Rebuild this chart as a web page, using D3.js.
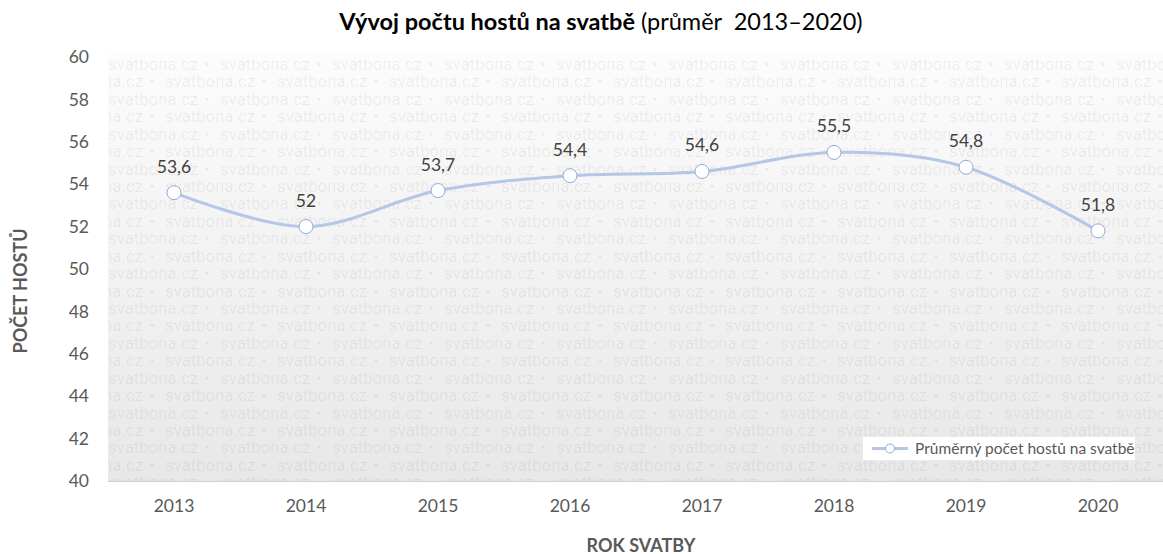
<!DOCTYPE html>
<html>
<head>
	<meta charset="utf-8">
	<title>Vývoj počtu hostů na svatbě</title>
	<style>
		body { margin: 0; background: #fff; }
		svg { display: block; font-family: Lato, "Open Sans", sans-serif; }
		.tick-label { fill: #595959; font-size: 17.5px; }
		.axis-title { fill: #595959; font-size: 18px; font-weight: 700; }
		.data-label { fill: #404040; font-size: 17.5px; }
		.wm { fill: #000; fill-opacity: 0.065; font-family: Roboto, "Liberation Sans", sans-serif; font-size: 16.5px; }
	</style>
</head>
<body>
<div id="chart"></div>
<script src="https://cdnjs.cloudflare.com/ajax/libs/d3/7.8.5/d3.min.js"></script>
<script>
	var years = ["2013", "2014", "2015", "2016", "2017", "2018", "2019", "2020"];
	var guests = [53.6, 52, 53.7, 54.4, 54.6, 55.5, 54.8, 51.8];
	var yTicks = [40, 42, 44, 46, 48, 50, 52, 54, 56, 58, 60];
	var seriesName = "Průměrný počet hostů na svatbě";

	var width = 1163, height = 554;
	var plot = { left: 108, right: 1164, top: 57, bottom: 481 };

	var svg = d3.select("#chart").append("svg")
		.attr("width", width)
		.attr("height", height);

	var x = d3.scaleBand().domain(years).range([plot.left, plot.right]);
	var y = d3.scaleLinear().domain([40, 60]).range([plot.bottom, plot.top]);

	// plot background with gradient
	var defs = svg.append("defs");
	var grad = defs.append("linearGradient")
		.attr("id", "bg")
		.attr("x1", 0).attr("y1", 0).attr("x2", 0).attr("y2", 1);
	grad.append("stop").attr("offset", "0%").attr("stop-color", "#fcfcfc");
	grad.append("stop").attr("offset", "100%").attr("stop-color", "#e8e8e8");

	var clip = defs.append("clipPath").attr("id", "plotclip");
	clip.append("rect")
		.attr("x", plot.left).attr("y", plot.top - 3)
		.attr("width", plot.right - plot.left).attr("height", plot.bottom - plot.top + 3);

	svg.append("rect")
		.attr("x", plot.left).attr("y", plot.top - 3)
		.attr("width", plot.right - plot.left)
		.attr("height", plot.bottom - plot.top + 3)
		.attr("fill", "url(#bg)");

	// watermark rows (alternating offset)
	var wm = svg.append("g").attr("clip-path", "url(#plotclip)");
	var rowStep = 17.43, period = 112;
	for (var r = 0; r < 25; r++) {
		var ry = 65 + r * rowStep + 5;
		var offset = (r % 2 === 0) ? 0 : 57;
		for (var c = -1; c < 10; c++) {
			var wx = plot.left + offset + c * period;
			wm.append("text")
				.attr("class", "wm")
				.attr("x", wx)
				.attr("y", ry)
				.attr("textLength", 90)
				.attr("lengthAdjust", "spacingAndGlyphs")
				.text("svatbona.cz");
			wm.append("text")
				.attr("class", "wm")
				.attr("x", wx + 99)
				.attr("y", ry)
				.attr("text-anchor", "middle")
				.text("\u2022");
		}
	}

	// bottom axis line
	svg.append("line")
		.attr("x1", plot.left).attr("x2", plot.right)
		.attr("y1", plot.bottom + 0.5).attr("y2", plot.bottom + 0.5)
		.attr("stroke", "#d0d0d0");

	// y tick labels
	svg.append("g").selectAll("text")
		.data(yTicks)
		.join("text")
		.attr("class", "tick-label")
		.attr("text-anchor", "end")
		.attr("x", 89)
		.attr("y", function(d) { return y(d); })
		.attr("dy", "0.35em")
		.text(function(d) { return d; });

	// x tick labels
	svg.append("g").selectAll("text")
		.data(years)
		.join("text")
		.attr("class", "tick-label")
		.attr("text-anchor", "middle")
		.attr("x", function(d) { return x(d) + x.bandwidth() / 2; })
		.attr("y", 512)
		.text(function(d) { return d; });

	// axis titles
	svg.append("text")
		.attr("class", "axis-title")
		.attr("text-anchor", "middle")
		.attr("x", 641)
		.attr("y", 552)
		.text("ROK SVATBY");

	svg.append("text")
		.attr("class", "axis-title")
		.attr("text-anchor", "middle")
		.attr("transform", "translate(27," + 291 + ") rotate(-90)")
		.text("POČET HOSTŮ");

	// title
	var title = svg.append("text")
		.attr("x", 601)
		.attr("y", 30)
		.attr("text-anchor", "middle")
		.attr("fill", "#000")
		.style("font-size", "23.5px");
	title.append("tspan").attr("font-weight", 700).text("Vývoj počtu hostů na svatbě");
	title.append("tspan").text(" (průměr\u00a0 2013–2020)");

	// line
	var pts = years.map(function(d, i) { return { year: d, value: guests[i] }; });
	var line = d3.line()
		.x(function(d) { return x(d.year) + x.bandwidth() / 2; })
		.y(function(d) { return y(d.value); })
		.curve(d3.curveCardinal.tension(0));

	svg.append("path")
		.datum(pts)
		.attr("d", line)
		.attr("fill", "none")
		.attr("stroke", "#b4c7e7")
		.attr("stroke-width", 3);

	svg.append("g").selectAll("circle")
		.data(pts)
		.join("circle")
		.attr("cx", function(d) { return x(d.year) + x.bandwidth() / 2; })
		.attr("cy", function(d) { return y(d.value); })
		.attr("r", 7)
		.attr("fill", "#fff")
		.attr("stroke", "#8faadc")
		.attr("stroke-width", 1);

	svg.append("g").selectAll("text")
		.data(pts)
		.join("text")
		.attr("class", "data-label")
		.attr("text-anchor", "middle")
		.attr("x", function(d) { return x(d.year) + x.bandwidth() / 2; })
		.attr("y", function(d) { return y(d.value) - 20; })
		.text(function(d) { return String(d.value).replace(".", ","); });

	// legend
	var lg = svg.append("g").attr("transform", "translate(863,437)");
	lg.append("rect")
		.attr("width", 272).attr("height", 23)
		.attr("fill", "#fff");
	lg.append("line")
		.attr("x1", 9).attr("x2", 45).attr("y1", 11.5).attr("y2", 11.5)
		.attr("stroke", "#b4c7e7").attr("stroke-width", 3);
	lg.append("circle")
		.attr("cx", 27).attr("cy", 11.5).attr("r", 4.5)
		.attr("fill", "#fff").attr("stroke", "#8faadc");
	lg.append("text")
		.attr("x", 52).attr("y", 17)
		.attr("fill", "#595959")
		.style("font-size", "15.5px")
		.text(seriesName);
</script>
</body>
</html>
